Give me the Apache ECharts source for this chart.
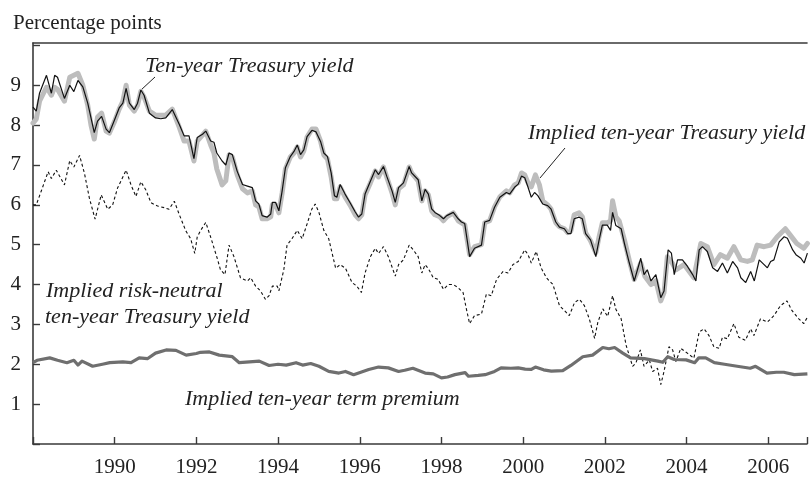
<!DOCTYPE html>
<html>
<head>
<meta charset="utf-8">
<script src="https://cdn.jsdelivr.net/npm/echarts@6/dist/echarts.min.js"></script>
<style>
html,body{margin:0;padding:0;background:#fff;}
#chart{width:810px;height:478px;}
</style>
</head>
<body>
<div id="chart"></div>
<script>
// ---- Data (decimal year, percent) ----
var tenYearYield = [
[1988.00,8.45],[1988.08,8.35],[1988.16,8.8],[1988.33,9.25],[1988.45,8.8],[1988.53,9.25],[1988.60,9.2],[1988.77,8.67],[1988.90,9.0],
[1989.00,8.84],[1989.10,9.12],[1989.22,8.96],[1989.34,8.55],[1989.42,8.18],[1989.50,7.81],[1989.58,8.1],[1989.68,8.22],[1989.79,7.9],[1989.87,7.81],
[1990.00,8.14],[1990.11,8.43],[1990.20,8.55],[1990.28,8.92],[1990.36,8.55],[1990.48,8.39],[1990.56,8.55],[1990.64,8.88],[1990.72,8.75],[1990.85,8.3],
[1991.00,8.18],[1991.13,8.16],[1991.25,8.18],[1991.41,8.39],[1991.58,8.02],[1991.70,7.73],[1991.82,7.73],[1991.94,7.16],
[1992.02,7.69],[1992.15,7.77],[1992.23,7.85],[1992.35,7.6],[1992.43,7.57],[1992.50,7.3],[1992.63,7.1],[1992.72,7.0],[1992.80,7.3],[1992.88,7.26],
[1993.00,6.84],[1993.13,6.51],[1993.25,6.47],[1993.37,6.43],[1993.45,6.1],[1993.53,6.02],[1993.61,5.73],[1993.73,5.69],[1993.82,5.77],[1993.86,6.06],[1993.94,6.06],
[1994.02,5.85],[1994.10,6.35],[1994.18,6.93],[1994.30,7.21],[1994.39,7.34],[1994.47,7.5],[1994.55,7.26],[1994.63,7.38],[1994.71,7.71],[1994.83,7.87],[1994.93,7.83],
[1995.04,7.59],[1995.12,7.3],[1995.21,7.21],[1995.30,6.8],[1995.38,6.23],[1995.44,6.19],[1995.52,6.51],[1995.64,6.27],[1995.76,6.06],[1995.89,5.82],[1995.97,5.69],
[1996.05,5.77],[1996.13,6.27],[1996.26,6.59],[1996.38,6.88],[1996.46,6.76],[1996.58,6.96],[1996.66,6.72],[1996.79,6.35],[1996.87,6.06],[1996.95,6.43],
[1997.07,6.55],[1997.11,6.59],[1997.21,6.96],[1997.27,6.8],[1997.43,6.63],[1997.52,6.1],[1997.60,6.39],[1997.68,6.27],[1997.76,5.9],[1997.84,5.81],[1997.96,5.73],
[1998.05,5.65],[1998.13,5.73],[1998.29,5.81],[1998.41,5.65],[1998.49,5.57],[1998.57,5.53],[1998.69,4.7],[1998.81,4.91],[1998.98,4.99],
[1999.06,5.57],[1999.18,5.61],[1999.30,5.94],[1999.43,6.19],[1999.59,6.31],[1999.67,6.27],[1999.79,6.44],[1999.88,6.52],[1999.96,6.72],
[2000.04,6.68],[2000.12,6.44],[2000.20,6.19],[2000.28,6.31],[2000.36,6.23],[2000.48,6.02],[2000.60,5.98],[2000.68,5.9],[2000.80,5.57],[2000.89,5.44],
[2001.01,5.4],[2001.09,5.28],[2001.17,5.28],[2001.25,5.65],[2001.37,5.69],[2001.45,5.65],[2001.53,5.28],[2001.65,5.12],[2001.78,4.7],[2001.86,5.12],[2001.94,5.49],
[2002.06,5.49],[2002.14,5.36],[2002.19,5.81],[2002.27,5.48],[2002.40,5.40],[2002.48,5.03],[2002.60,4.54],[2002.72,4.09],[2002.88,4.66],[2002.96,4.25],
[2003.04,4.37],[2003.13,4.09],[2003.25,4.25],[2003.37,3.67],[2003.45,3.84],[2003.55,4.87],[2003.63,4.79],[2003.70,4.25],[2003.78,4.62],[2003.90,4.62],
[2004.02,4.46],[2004.15,4.25],[2004.23,4.09],[2004.31,4.87],[2004.39,4.95],[2004.51,4.83],[2004.64,4.42],[2004.76,4.33],[2004.88,4.54],
[2005.00,4.29],[2005.13,4.58],[2005.25,4.42],[2005.33,4.17],[2005.45,4.05],[2005.57,4.33],[2005.66,4.09],[2005.78,4.62],[2005.90,4.5],[2005.98,4.42],
[2006.06,4.58],[2006.14,4.62],[2006.27,5.07],[2006.39,5.2],[2006.47,5.16],[2006.60,4.87],[2006.68,4.75],[2006.80,4.66],[2006.88,4.54],[2006.96,4.79]
];

var impliedYield = [
[1988.00,8.05],[1988.08,8.15],[1988.16,8.6],[1988.33,8.95],[1988.45,8.75],[1988.53,8.95],[1988.60,8.9],[1988.77,8.6],[1988.90,9.2],
[1989.00,9.25],[1989.10,9.3],[1989.22,9.0],[1989.34,8.5],[1989.42,8.0],[1989.50,7.65],[1989.58,8.2],[1989.68,8.3],[1989.79,7.85],[1989.87,7.8],
[1990.00,8.1],[1990.11,8.4],[1990.20,8.6],[1990.28,9.0],[1990.36,8.5],[1990.48,8.35],[1990.56,8.5],[1990.64,8.85],[1990.72,8.7],[1990.85,8.35],
[1991.00,8.25],[1991.13,8.25],[1991.25,8.25],[1991.41,8.4],[1991.58,7.95],[1991.70,7.6],[1991.82,7.6],[1991.94,7.1],
[1992.02,7.6],[1992.15,7.75],[1992.23,7.85],[1992.35,7.5],[1992.43,7.3],[1992.50,6.9],[1992.63,6.5],[1992.72,6.6],[1992.80,7.25],[1992.88,7.2],
[1993.00,6.75],[1993.13,6.4],[1993.25,6.3],[1993.37,6.35],[1993.45,6.0],[1993.53,5.95],[1993.61,5.65],[1993.73,5.65],[1993.82,5.7],[1993.86,6.0],[1993.94,6.0],
[1994.02,5.8],[1994.10,6.3],[1994.18,6.9],[1994.30,7.2],[1994.39,7.3],[1994.47,7.45],[1994.55,7.2],[1994.63,7.35],[1994.71,7.7],[1994.83,7.9],[1994.93,7.9],
[1995.04,7.6],[1995.12,7.25],[1995.21,7.15],[1995.30,6.7],[1995.38,6.15],[1995.44,6.15],[1995.52,6.45],[1995.64,6.2],[1995.76,6.0],[1995.89,5.75],[1995.97,5.65],
[1996.05,5.75],[1996.13,6.25],[1996.26,6.55],[1996.38,6.85],[1996.46,6.7],[1996.58,6.95],[1996.66,6.7],[1996.79,6.3],[1996.87,6.0],[1996.95,6.4],
[1997.07,6.5],[1997.11,6.55],[1997.21,6.95],[1997.27,6.8],[1997.43,6.6],[1997.52,6.1],[1997.60,6.35],[1997.68,6.25],[1997.76,5.85],[1997.84,5.75],[1997.96,5.7],
[1998.05,5.6],[1998.13,5.7],[1998.29,5.8],[1998.41,5.6],[1998.49,5.55],[1998.57,5.5],[1998.69,4.75],[1998.81,4.95],[1998.98,5.0],
[1999.06,5.55],[1999.18,5.6],[1999.30,5.95],[1999.43,6.2],[1999.59,6.35],[1999.67,6.3],[1999.79,6.5],[1999.88,6.55],[1999.96,6.8],
[2000.04,6.75],[2000.12,6.55],[2000.20,6.45],[2000.30,6.75],[2000.40,6.5],[2000.48,6.1],[2000.60,6.0],[2000.68,5.9],[2000.80,5.55],[2000.89,5.45],
[2001.01,5.4],[2001.09,5.3],[2001.17,5.35],[2001.25,5.75],[2001.37,5.8],[2001.45,5.7],[2001.53,5.3],[2001.65,5.1],[2001.78,4.8],[2001.86,5.2],[2001.94,5.55],
[2002.06,5.55],[2002.14,5.6],[2002.19,6.1],[2002.27,5.7],[2002.35,5.6],[2002.48,5.12],[2002.60,4.6],[2002.72,4.13],[2002.88,4.54],[2002.98,4.21],
[2003.13,4.0],[2003.25,4.1],[2003.37,3.59],[2003.45,3.8],[2003.53,4.7],[2003.65,4.54],[2003.74,4.37],[2003.94,4.5],
[2004.18,4.17],[2004.35,5.03],[2004.51,4.95],[2004.67,4.5],[2004.83,4.75],
[2005.00,4.66],[2005.16,4.95],[2005.33,4.62],[2005.49,4.58],[2005.61,4.62],[2005.73,4.99],[2005.90,4.95],
[2006.06,4.99],[2006.22,5.2],[2006.42,5.4],[2006.54,5.24],[2006.70,5.03],[2006.87,4.91],[2006.96,5.03]
];

var riskNeutralYield = [
[1988.00,6.0],[1988.08,6.0],[1988.20,6.34],[1988.37,6.83],[1988.45,6.66],[1988.57,6.87],[1988.77,6.5],[1988.90,7.11],
[1989.00,6.95],[1989.14,7.24],[1989.26,6.79],[1989.38,6.17],[1989.52,5.64],[1989.67,6.25],[1989.83,5.89],[1989.95,6.0],
[1990.07,6.42],[1990.28,6.87],[1990.40,6.5],[1990.52,6.21],[1990.64,6.58],[1990.76,6.38],[1990.89,6.05],
[1991.05,5.97],[1991.21,5.93],[1991.33,5.89],[1991.46,6.09],[1991.58,5.76],[1991.74,5.35],[1991.86,5.15],[1991.96,4.78],
[1992.02,5.19],[1992.10,5.35],[1992.23,5.56],[1992.35,5.19],[1992.51,4.66],[1992.59,4.37],[1992.70,4.25],[1992.80,4.99],[1992.92,4.70],
[1993.08,4.17],[1993.25,4.09],[1993.33,4.17],[1993.45,3.96],[1993.57,3.84],[1993.69,3.63],[1993.78,3.72],[1993.86,3.96],[1993.98,3.96],
[1994.02,3.84],[1994.14,4.37],[1994.22,4.99],[1994.34,5.15],[1994.47,5.36],[1994.59,5.15],[1994.71,5.52],[1994.83,5.9],[1994.91,6.02],
[1995.00,5.81],[1995.12,5.36],[1995.24,5.15],[1995.41,4.41],[1995.52,4.5],[1995.65,4.41],[1995.81,4.05],[1995.93,3.96],
[1996.04,3.8],[1996.13,4.29],[1996.26,4.7],[1996.38,4.91],[1996.46,4.78],[1996.58,4.95],[1996.70,4.70],[1996.87,4.21],[1996.95,4.5],
[1997.07,4.62],[1997.21,4.99],[1997.31,4.87],[1997.43,4.7],[1997.52,4.29],[1997.60,4.5],[1997.68,4.4],[1997.80,4.17],[1997.92,4.13],
[1998.05,3.88],[1998.17,4.0],[1998.29,4.0],[1998.41,3.92],[1998.53,3.8],[1998.61,3.39],[1998.69,3.02],[1998.81,3.22],[1998.98,3.26],
[1999.10,3.76],[1999.22,3.72],[1999.35,4.13],[1999.51,4.33],[1999.63,4.29],[1999.75,4.5],[1999.88,4.58],
[2000.04,4.87],[2000.12,4.75],[2000.20,4.54],[2000.32,4.83],[2000.44,4.42],[2000.57,4.17],[2000.73,4.0],[2000.89,3.47],
[2001.01,3.35],[2001.13,3.22],[2001.26,3.55],[2001.38,3.63],[2001.50,3.47],[2001.62,3.14],[2001.75,2.65],[2001.83,3.06],[2001.95,3.39],
[2002.07,3.2],[2002.19,3.72],[2002.27,3.38],[2002.40,3.14],[2002.52,2.48],[2002.68,1.95],[2002.76,2.03],[2002.87,2.36],[2002.96,1.95],
[2003.09,2.11],[2003.17,1.82],[2003.29,1.9],[2003.37,1.49],[2003.45,1.82],[2003.57,2.44],[2003.66,2.36],[2003.74,2.07],[2003.86,2.4],
[2004.02,2.28],[2004.18,2.15],[2004.31,2.81],[2004.43,2.89],[2004.55,2.72],[2004.67,2.44],[2004.80,2.4],[2004.88,2.68],
[2005.00,2.64],[2005.16,3.02],[2005.28,2.68],[2005.44,2.6],[2005.57,2.89],[2005.65,2.72],[2005.81,3.14],[2005.98,3.06],
[2006.14,3.22],[2006.30,3.47],[2006.46,3.59],[2006.58,3.35],[2006.75,3.14],[2006.87,3.02],[2006.96,3.18]
];

var termPremium = [
[1988.00,2.04],[1988.10,2.1],[1988.41,2.16],[1988.60,2.1],[1988.83,2.04],[1989.00,2.1],[1989.10,1.98],[1989.20,2.08],[1989.46,1.95],[1989.70,2.0],[1989.88,2.04],
[1990.20,2.06],[1990.40,2.04],[1990.60,2.16],[1990.80,2.14],[1991.00,2.28],[1991.26,2.36],[1991.50,2.35],[1991.75,2.23],[1992.00,2.27],[1992.10,2.3],
[1992.32,2.31],[1992.56,2.23],[1992.88,2.19],[1993.05,2.04],[1993.30,2.06],[1993.54,2.08],[1993.78,1.97],[1994.00,2.0],[1994.20,1.98],[1994.44,2.04],
[1994.60,1.98],[1994.80,2.02],[1995.00,1.95],[1995.24,1.82],[1995.49,1.78],[1995.65,1.82],[1995.85,1.74],[1996.22,1.87],[1996.46,1.93],[1996.70,1.91],
[1996.95,1.82],[1997.10,1.85],[1997.30,1.9],[1997.60,1.78],[1997.80,1.76],[1998.00,1.66],[1998.15,1.68],[1998.33,1.74],[1998.58,1.79],[1998.66,1.7],
[1998.90,1.72],[1999.07,1.74],[1999.30,1.82],[1999.46,1.91],[1999.70,1.9],[1999.88,1.91],[2000.05,1.88],[2000.20,1.87],[2000.30,1.93],[2000.50,1.86],
[2000.69,1.83],[2000.97,1.84],[2001.17,1.97],[2001.46,2.19],[2001.70,2.23],[2001.95,2.42],[2002.10,2.39],[2002.24,2.42],[2002.44,2.28],[2002.63,2.16],
[2002.97,2.14],[2003.30,2.08],[2003.42,2.05],[2003.54,2.19],[2003.70,2.12],[2003.99,2.11],[2004.20,2.04],[2004.30,2.16],[2004.47,2.16],[2004.68,2.04],
[2004.93,2.0],[2005.24,1.95],[2005.56,1.9],[2005.69,1.95],[2005.97,1.78],[2006.20,1.8],[2006.38,1.8],[2006.64,1.74],[2006.96,1.76]
];

var xTickLabels = ['1990','1992','1994','1996','1998','2000','2002','2004','2006'];
var yTickLabels = ['1','2','3','4','5','6','7','8','9'];

var serif = '"Liberation Serif","DejaVu Serif",serif';
var axisColor = '#3a3a3a';
var textColor = '#222';

var chart = echarts.init(document.getElementById('chart'), null, {renderer:'canvas'});
chart.setOption({
  animation:false,
  backgroundColor:'#fff',
  grid:{left:33, right:0, top:43, bottom:27, containLabel:false},
  xAxis:[{
    type:'value', min:1988, max:2006.95, interval:2, position:'bottom',
    axisLine:{show:true, lineStyle:{color:axisColor, width:1.6}},
    axisTick:{show:true, inside:true, length:7, lineStyle:{color:axisColor, width:1.4}},
    axisLabel:{show:true, margin:13, fontFamily:serif, fontSize:21, color:textColor,
      formatter:function(v){var s=String(Math.round(v)); return xTickLabels.indexOf(s)>=0 && Math.abs(v-Math.round(v))<1e-6 ? s : '';}},
    splitLine:{show:false}
  },{
    type:'value', min:1988, max:2006.95, position:'top',
    axisLine:{show:true, lineStyle:{color:axisColor, width:1.6}},
    axisTick:{show:false}, axisLabel:{show:false}, splitLine:{show:false}
  }],
  yAxis:{
    type:'value', min:0, max:10.06, interval:1,
    axisLine:{show:true, lineStyle:{color:axisColor, width:1.6}},
    axisTick:{show:true, inside:true, length:7, lineStyle:{color:axisColor, width:1.4}},
    axisLabel:{show:true, margin:12, fontFamily:serif, fontSize:21, color:textColor, showMaxLabel:false,
      formatter:function(v){var s=String(v); return yTickLabels.indexOf(s)>=0 ? s : '';}},
    splitLine:{show:false}
  },
  series:[
    {name:'Implied ten-year Treasury yield', type:'line', data:impliedYield, showSymbol:false, symbol:'none',
     lineStyle:{color:'#bdbdbd', width:5, join:'round', cap:'round'}, z:2},
    {name:'Ten-year Treasury yield', type:'line', data:tenYearYield, showSymbol:false, symbol:'none',
     lineStyle:{color:'#111', width:1.2}, z:3},
    {name:'Implied risk-neutral ten-year Treasury yield', type:'line', data:riskNeutralYield, showSymbol:false, symbol:'none',
     lineStyle:{color:'#111', width:1.1, type:[3,2.5]}, z:3},
    {name:'Implied ten-year term premium', type:'line', data:termPremium, showSymbol:false, symbol:'none',
     lineStyle:{color:'#6f6f6f', width:3.2, join:'round'}, z:3}
  ],
  graphic:[
    {type:'text', x:13, y:23, style:{text:'Percentage points', font:'21px '+serif, fill:textColor, verticalAlign:'middle'}},
    {type:'text', x:145, y:66, style:{text:'Ten-year Treasury yield', font:'italic 22px '+serif, fill:textColor, verticalAlign:'middle'}},
    {type:'line', shape:{x1:141, y1:90, x2:155, y2:77}, style:{stroke:'#222', lineWidth:1}},
    {type:'text', x:528, y:133, style:{text:'Implied ten-year Treasury yield', font:'italic 22px '+serif, fill:textColor, verticalAlign:'middle'}},
    {type:'line', shape:{x1:565, y1:148, x2:540, y2:178}, style:{stroke:'#222', lineWidth:1}},
    {type:'text', x:46, y:291, style:{text:'Implied risk-neutral', font:'italic 22px '+serif, fill:textColor, verticalAlign:'middle'}},
    {type:'text', x:45, y:317, style:{text:'ten-year Treasury yield', font:'italic 22px '+serif, fill:textColor, verticalAlign:'middle'}},
    {type:'text', x:185, y:399, style:{text:'Implied ten-year term premium', font:'italic 22px '+serif, fill:textColor, verticalAlign:'middle'}}
  ]
});
</script>
</body>
</html>
